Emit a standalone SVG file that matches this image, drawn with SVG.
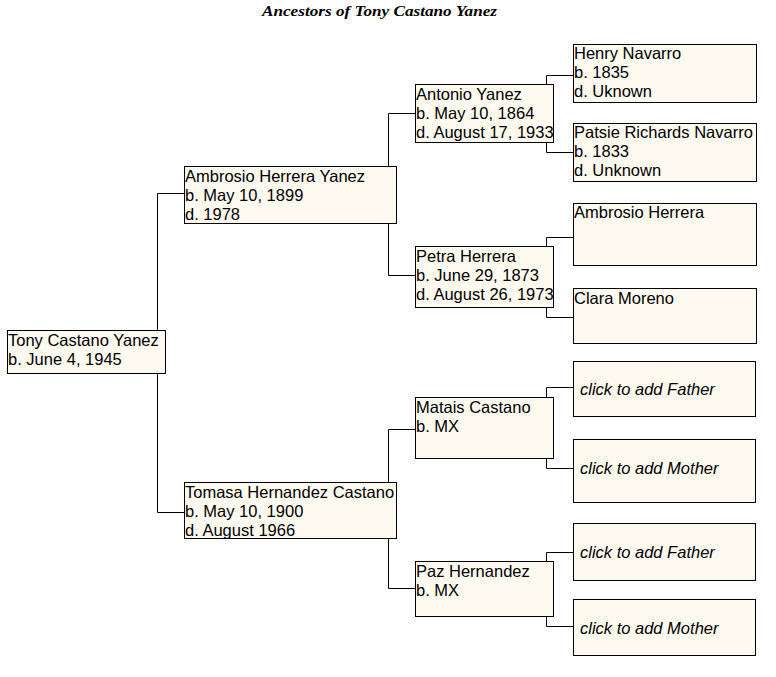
<svg xmlns="http://www.w3.org/2000/svg" width="776" height="677" viewBox="0 0 776 677">
<style>
.box{fill:#FFFAF0;stroke:#000;stroke-width:1}
.t{font-family:"Liberation Sans",Arial,sans-serif;font-size:16.5px;fill:#000}
.i{font-family:"Liberation Sans",Arial,sans-serif;font-size:16.5px;font-style:italic;fill:#000}
.title{font-family:"Liberation Serif","Times New Roman",serif;font-size:14px;font-weight:bold;font-style:italic;fill:#000}
.c{fill:none;stroke:#000;stroke-width:1}
</style>
<rect width="776" height="677" fill="#fff"/>
<text class="title" x="262" y="16" textLength="235" lengthAdjust="spacingAndGlyphs">Ancestors of Tony Castano Yanez</text>
<g id="connectors">
<path class="c" d="M184.5,193.5H157.5V512.5H184.5"/>
<path class="c" d="M415.5,113.5H388.5V166 M388.5,224V275.5H415.5"/>
<path class="c" d="M415.5,429.5H388.5V588.5H415.5"/>
<path class="c" d="M573.5,75.5H546.5V84 M546.5,143V152.5H573.5"/>
<path class="c" d="M573.5,237.5H546.5V246 M546.5,308V317.5H573.5"/>
<path class="c" d="M573.5,387.5H546.5V397 M546.5,459V468.5H573.5"/>
<path class="c" d="M573.5,552.5H546.5V561 M546.5,617V626.5H573.5"/>
</g>
<g id="n-tony"><rect class="box" x="7.5" y="330.5" width="158" height="43"/>
<text class="t" x="8" y="346">Tony Castano Yanez</text><text class="t" x="8" y="365">b. June 4, 1945</text></g>
<g id="n-ambrosio-yanez"><rect class="box" x="184.5" y="166.5" width="212" height="57"/>
<text class="t" x="185" y="182">Ambrosio Herrera Yanez</text><text class="t" x="185" y="201">b. May 10, 1899</text><text class="t" x="185" y="220">d. 1978</text></g>
<g id="n-tomasa"><rect class="box" x="184.5" y="482.5" width="212" height="56"/>
<text class="t" x="185" y="498">Tomasa Hernandez Castano</text><text class="t" x="185" y="517">b. May 10, 1900</text><text class="t" x="185" y="536">d. August 1966</text></g>
<g id="n-antonio"><rect class="box" x="415.5" y="84.5" width="138" height="58"/>
<text class="t" x="416" y="100">Antonio Yanez</text><text class="t" x="416" y="119">b. May 10, 1864</text><text class="t" x="416" y="138">d. August 17, 1933</text></g>
<g id="n-petra"><rect class="box" x="415.5" y="246.5" width="138" height="61"/>
<text class="t" x="416" y="262">Petra Herrera</text><text class="t" x="416" y="281">b. June 29, 1873</text><text class="t" x="416" y="300">d. August 26, 1973</text></g>
<g id="n-matais"><rect class="box" x="415.5" y="397.5" width="138" height="61"/>
<text class="t" x="416" y="413">Matais Castano</text><text class="t" x="416" y="432">b. MX</text></g>
<g id="n-paz"><rect class="box" x="415.5" y="561.5" width="138" height="55"/>
<text class="t" x="416" y="577">Paz Hernandez</text><text class="t" x="416" y="596">b. MX</text></g>
<g id="n-henry"><rect class="box" x="573.5" y="44.5" width="183" height="58"/>
<text class="t" x="574" y="59">Henry Navarro</text><text class="t" x="574" y="78">b. 1835</text><text class="t" x="574" y="97">d. Uknown</text></g>
<g id="n-patsie"><rect class="box" x="573.5" y="123.5" width="183" height="58"/>
<text class="t" x="574" y="138">Patsie Richards Navarro</text><text class="t" x="574" y="157">b. 1833</text><text class="t" x="574" y="176">d. Unknown</text></g>
<g id="n-ambrosio-herrera"><rect class="box" x="573.5" y="203.5" width="183" height="62"/>
<text class="t" x="574" y="218">Ambrosio Herrera</text></g>
<g id="n-clara"><rect class="box" x="573.5" y="288.5" width="183" height="55"/>
<text class="t" x="574" y="304">Clara Moreno</text></g>
<g id="n-f1"><rect class="box" x="573.5" y="361.5" width="182" height="55"/>
<text class="i" x="580" y="395">click to add Father</text></g>
<g id="n-m1"><rect class="box" x="573.5" y="439.5" width="182" height="63"/>
<text class="i" x="580" y="474">click to add Mother</text></g>
<g id="n-f2"><rect class="box" x="573.5" y="523.5" width="182" height="57"/>
<text class="i" x="580" y="558">click to add Father</text></g>
<g id="n-m2"><rect class="box" x="573.5" y="599.5" width="182" height="56"/>
<text class="i" x="580" y="634">click to add Mother</text></g>
</svg>
